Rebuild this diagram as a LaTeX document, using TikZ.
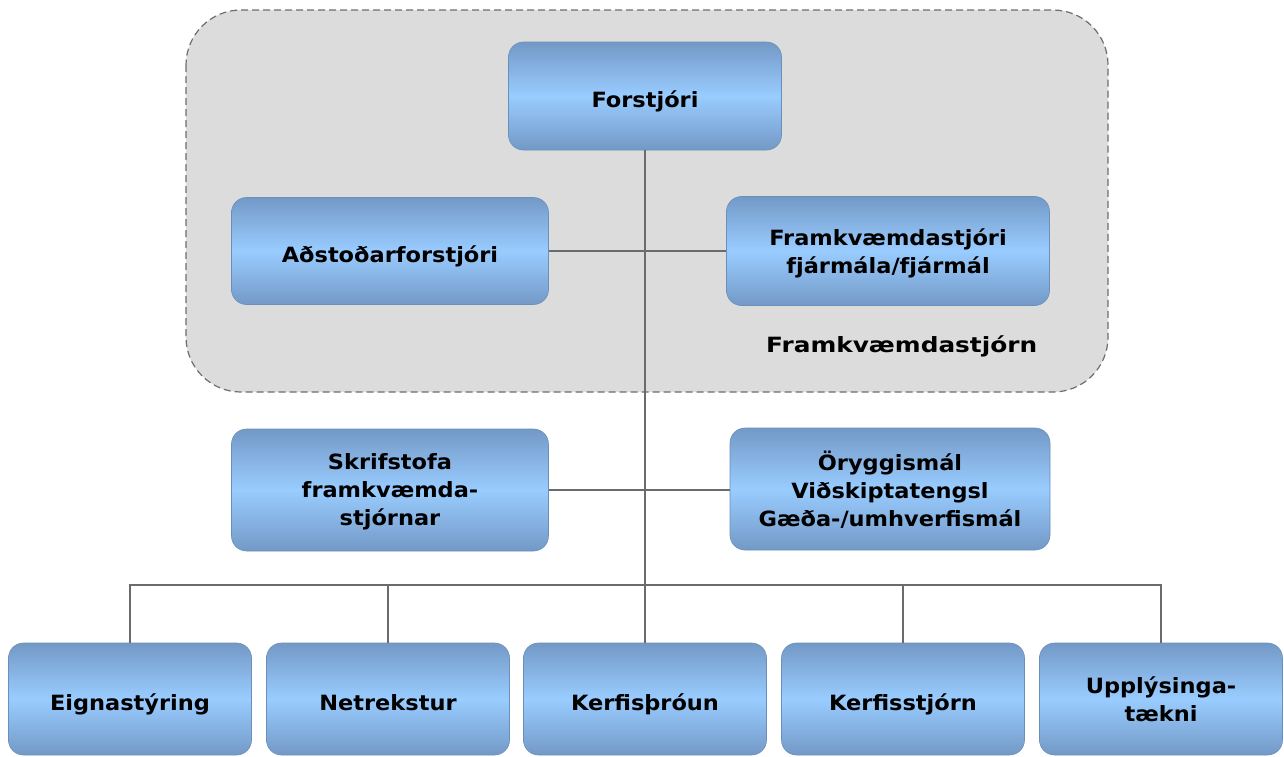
\documentclass[tikz,border=0pt]{standalone}
\usepackage{fontspec}
\setmainfont{DejaVu Sans}
\newfontfamily\boxfont[FakeStretch=1.07]{DejaVu Sans}
\newfontfamily\lblfont[FakeStretch=1.18]{DejaVu Sans}
\definecolor{boxdark}{HTML}{7399C6}
\definecolor{boxlight}{HTML}{99CCFF}
\definecolor{boxedge}{HTML}{6A8FBA}
\definecolor{linegray}{HTML}{6B6B6B}
\definecolor{panelfill}{HTML}{DCDCDC}
\definecolor{paneledge}{HTML}{6E6E6E}
\tikzset{
  orgbox/.style={rounded corners=15pt, draw=boxedge, line width=0.6pt,
    top color=boxdark, bottom color=boxdark, middle color=boxlight,
    align=center, inner sep=0pt, text depth=0pt,
    font=\boxfont\fontsize{21}{28}\selectfont\bfseries},
  oneline/.style={text height=22pt},
  conn/.style={draw=linegray, line width=2pt},
  panel/.style={rounded corners=55pt, draw=paneledge, dash pattern=on 7pt off 4pt, line width=1.2pt, fill=panelfill}
}
\begin{document}
\begin{tikzpicture}[x=1pt,y=-1pt]
\useasboundingbox (0,0) rectangle (1284,756);
\fill[white] (0,0) rectangle (1284,756);
\path[panel] (186,10) rectangle (1108,392);
\node[font=\lblfont\fontsize{21}{25}\selectfont\bfseries, anchor=west, inner sep=0pt] (lbl) at (766,346) {Framkvæmdastjórn};

\node[orgbox, oneline, minimum width=273pt, minimum height=108pt] (forst) at (645,96) {Forstjóri};
\node[orgbox, oneline, minimum width=317pt, minimum height=107pt] (adst) at (390,251) {Aðstoðarforstjóri};
\node[orgbox, minimum width=323pt, minimum height=109pt] (fram) at (888,251) {Framkvæmdastjóri\\fjármála/fjármál};
\node[orgbox, minimum width=317pt, minimum height=122pt] (skrif) at (390,490) {Skrifstofa\\framkvæmda-\\stjórnar};
\node[orgbox, minimum width=320pt, minimum height=122pt] (oryg) at (890,489) {Öryggismál\\Viðskiptatengsl\\Gæða-/umhverfismál};

\node[orgbox, oneline, minimum width=243pt, minimum height=112pt] (eign) at (130,699) {Eignastýring};
\node[orgbox, oneline, minimum width=243pt, minimum height=112pt] (net) at (388,699) {Netrekstur};
\node[orgbox, oneline, minimum width=243pt, minimum height=112pt] (kerf) at (645,699) {Kerfisþróun};
\node[orgbox, oneline, minimum width=243pt, minimum height=112pt] (kstj) at (903,699) {Kerfisstjórn};
\node[orgbox, minimum width=243pt, minimum height=112pt] (upp) at (1161,699) {Upplýsinga-\\tækni};

\coordinate (bus) at (645,585);
\draw[conn] (forst.south) -- (kerf.north);
\draw[conn] (adst.east) -- (fram.west |- adst.east);
\draw[conn] (skrif.east) -- (oryg.west |- skrif.east);
\draw[conn] (eign.north) |- (bus) -| (upp.north);
\draw[conn] (net.north) -- (net.north |- bus);
\draw[conn] (kstj.north) -- (kstj.north |- bus);
\end{tikzpicture}
\end{document}
